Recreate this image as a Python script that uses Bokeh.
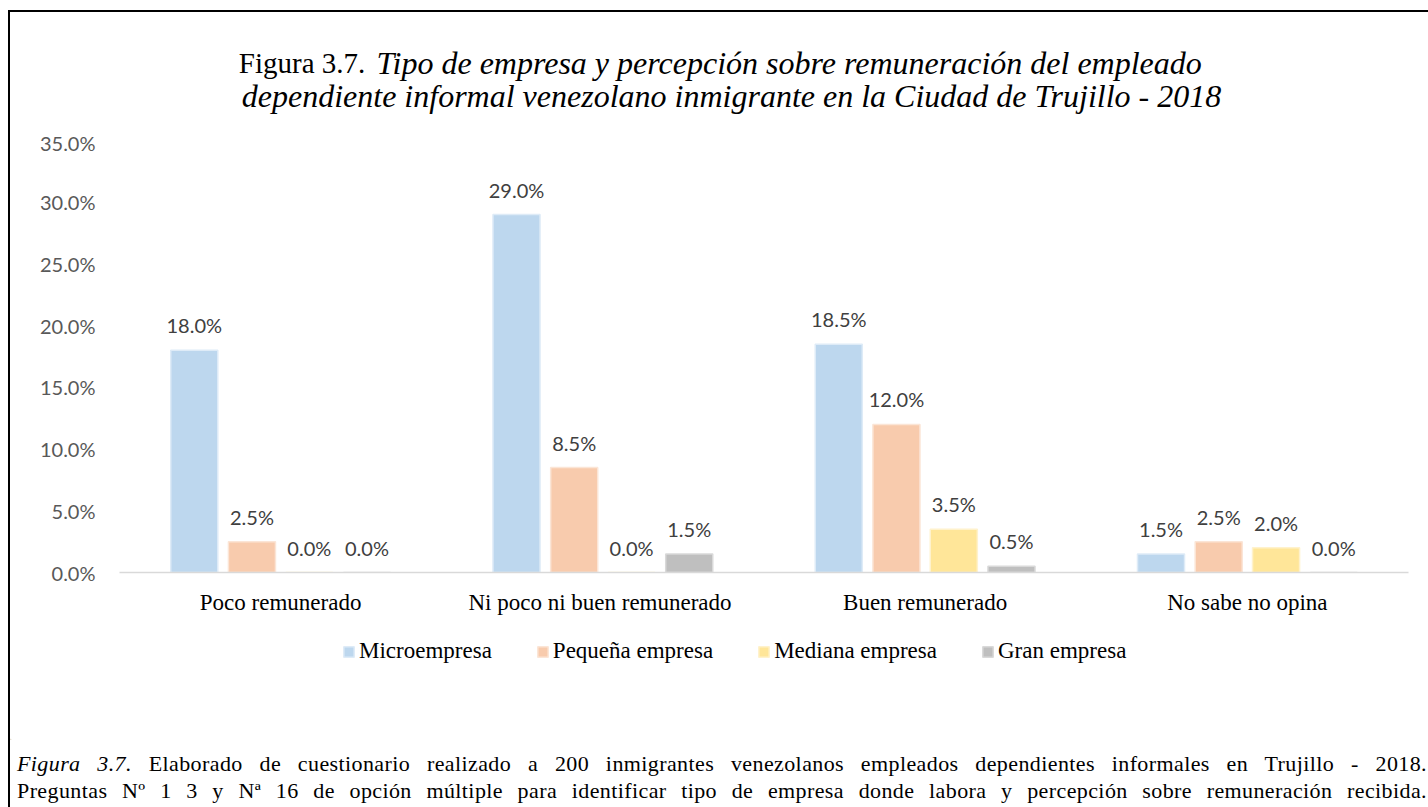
from bokeh.plotting import figure
from bokeh.layouts import column
from bokeh.models import (ColumnDataSource, FactorRange, Label, LabelSet, Legend, LegendItem,
                          PrintfTickFormatter, FixedTicker, Div)
from bokeh.transform import dodge
from bokeh.core.properties import value
from bokeh.embed import file_html
from bokeh.resources import INLINE

# ---- data ----
categories = ["Poco remunerado", "Ni poco ni  buen remunerado", "Buen remunerado", "No sabe no opina"]
series_names = ["Microempresa", "Pequeña empresa", "Mediana empresa", "Gran empresa"]
micro = [18.0, 29.0, 18.5, 1.5]
pequena = [2.5, 8.5, 12.0, 2.5]
mediana = [0.0, 0.0, 3.5, 2.0]
gran = [0.0, 1.5, 0.5, 0.0]
y_ticks = [0, 5, 10, 15, 20, 25, 30, 35]

title_roman = "Figura  3.7."
title_italic1 = "Tipo de empresa y percepción sobre remuneración del empleado"
title_italic2 = "dependiente informal venezolano inmigrante en la Ciudad de Trujillo - 2018"
note_italic = "Figura 3.7."
note_line1 = "Elaborado de cuestionario realizado a 200 inmigrantes venezolanos empleados dependientes informales en Trujillo - 2018."
note_line2 = "Preguntas Nº 1 3 y Nª 16 de opción múltiple para identificar tipo de empresa donde labora y percepción sobre remuneración recibida."

colors = ["#BDD7EE", "#F8CBAD", "#FFE699", "#BFBFBF"]
edges = ["#DEEBF7", "#FBE5D6", "#FFF2CC", "#D9D9D9"]
offsets = [-0.268, -0.089, 0.089, 0.268]
series = [micro, pequena, mediana, gran]
keys = ["micro", "pequena", "mediana", "gran"]

data = {"cat": categories}
for k, s in zip(keys, series):
    data[k] = s
    data[k + "_lbl"] = [f"{v:.1f}%" for v in s]
source = ColumnDataSource(data)

W = 1416
H_T, H_M, H_F, H_N = 118, 495, 115, 66
SERIF = "Liberation Serif"


def blank(h):
    f = figure(width=W, height=h, x_range=(0, W), y_range=(0, h), output_backend="svg",
               toolbar_location=None, x_axis_type=None, y_axis_type=None,
               min_border=0, min_border_left=0, min_border_right=0,
               min_border_top=0, min_border_bottom=0)
    f.frame_align = False
    f.xgrid.grid_line_color = None
    f.ygrid.grid_line_color = None
    f.outline_line_color = None
    return f


def add_text(f, h, cx, cy, txt, size, style="normal", align="left"):
    f.add_layout(Label(x=cx, y=h - cy, text=txt, text_font=SERIF, text_font_size=size,
                       text_font_style=style, text_align=align, text_baseline="middle",
                       text_color="black"))


# ---- title ----
pt = blank(H_T)
add_text(pt, H_T, 362, 50, title_roman, "29px", "normal", "right")
add_text(pt, H_T, 366, 50, title_italic1, "32px", "italic", "left")
add_text(pt, H_T, 721, 83, title_italic2, "32px", "italic", "center")

# ---- main chart ----
p = figure(x_range=FactorRange(*categories), y_range=(0, 35), width=W, height=H_M,
           output_backend="svg", toolbar_location=None,
           min_border_left=109, min_border_right=18, min_border_top=10, min_border_bottom=53)
p.frame_align = False
p.xgrid.grid_line_color = None
p.ygrid.grid_line_color = None
p.outline_line_color = None
p.x_range.range_padding = 0

for k, c, e, off in zip(keys, colors, edges, offsets):
    p.vbar(x=dodge("cat", off, range=p.x_range), top=k, width=0.146, source=source,
           fill_color=c, line_color=e, line_width=1.5)
    p.add_layout(LabelSet(x=dodge("cat", off, range=p.x_range), y=k, text=k + "_lbl", source=source,
                          text_align="center", text_baseline="middle", y_offset=25,
                          text_font=value("Lato"), text_font_size="20px", text_color="#404040"))

p.yaxis.ticker = FixedTicker(ticks=y_ticks)
p.yaxis.formatter = PrintfTickFormatter(format="%.1f%%")
p.yaxis.axis_line_color = None
p.yaxis.major_tick_line_color = None
p.yaxis.minor_tick_line_color = None
p.yaxis.major_label_standoff = 18
p.yaxis.major_label_text_font = "Lato"
p.yaxis.major_label_text_font_size = "20px"
p.yaxis.major_label_text_color = "#595959"

p.xaxis.axis_line_color = "#D9D9D9"
p.xaxis.axis_line_width = 1.5
p.xaxis.major_tick_line_color = None
p.xaxis.minor_tick_line_color = None
p.xaxis.major_label_standoff = 11
p.xaxis.major_label_text_font = SERIF
p.xaxis.major_label_text_font_size = "23px"
p.xaxis.major_label_text_color = "black"

# ---- legend ----
pf = blank(H_F)
# legend-only proxy renderers, kept outside the visible range
leg_rs = [pf.vbar(x=[-100], top=[1], width=1, fill_color=c, line_color=e, line_width=1.5)
          for c, e in zip(colors, edges)]
legend = Legend(items=[LegendItem(label=n, renderers=[r]) for n, r in zip(series_names, leg_rs)],
                orientation="horizontal", location=(332, 76),
                glyph_width=13, glyph_height=13, label_standoff=4, spacing=44,
                padding=0, margin=0, border_line_color=None, background_fill_alpha=0,
                label_text_font=SERIF, label_text_font_size="23px", label_text_color="black")
pf.add_layout(legend, "center")

# ---- footnote (justified, as in the source document) ----
note_html = (
    "<div style=\"font-family:'Liberation Serif';font-size:22px;line-height:27px;color:black;"
    "letter-spacing:0.4px;text-align:justify;text-align-last:justify;width:1413px;"
    "padding:5px 1px 0 2px;box-sizing:border-box;white-space:normal;\">"
    f"<i>{note_italic}</i> {note_line1}<br>{note_line2}</div>"
)
note = Div(text=note_html, width=W, height=H_N)

layout = column(pt, p, pf, note, spacing=0,
                styles={"margin-left": "8px", "margin-top": "10px",
                        "border-left": "2px solid black", "border-top": "2px solid black"})

open("out.html", "w").write(file_html(layout, INLINE))
